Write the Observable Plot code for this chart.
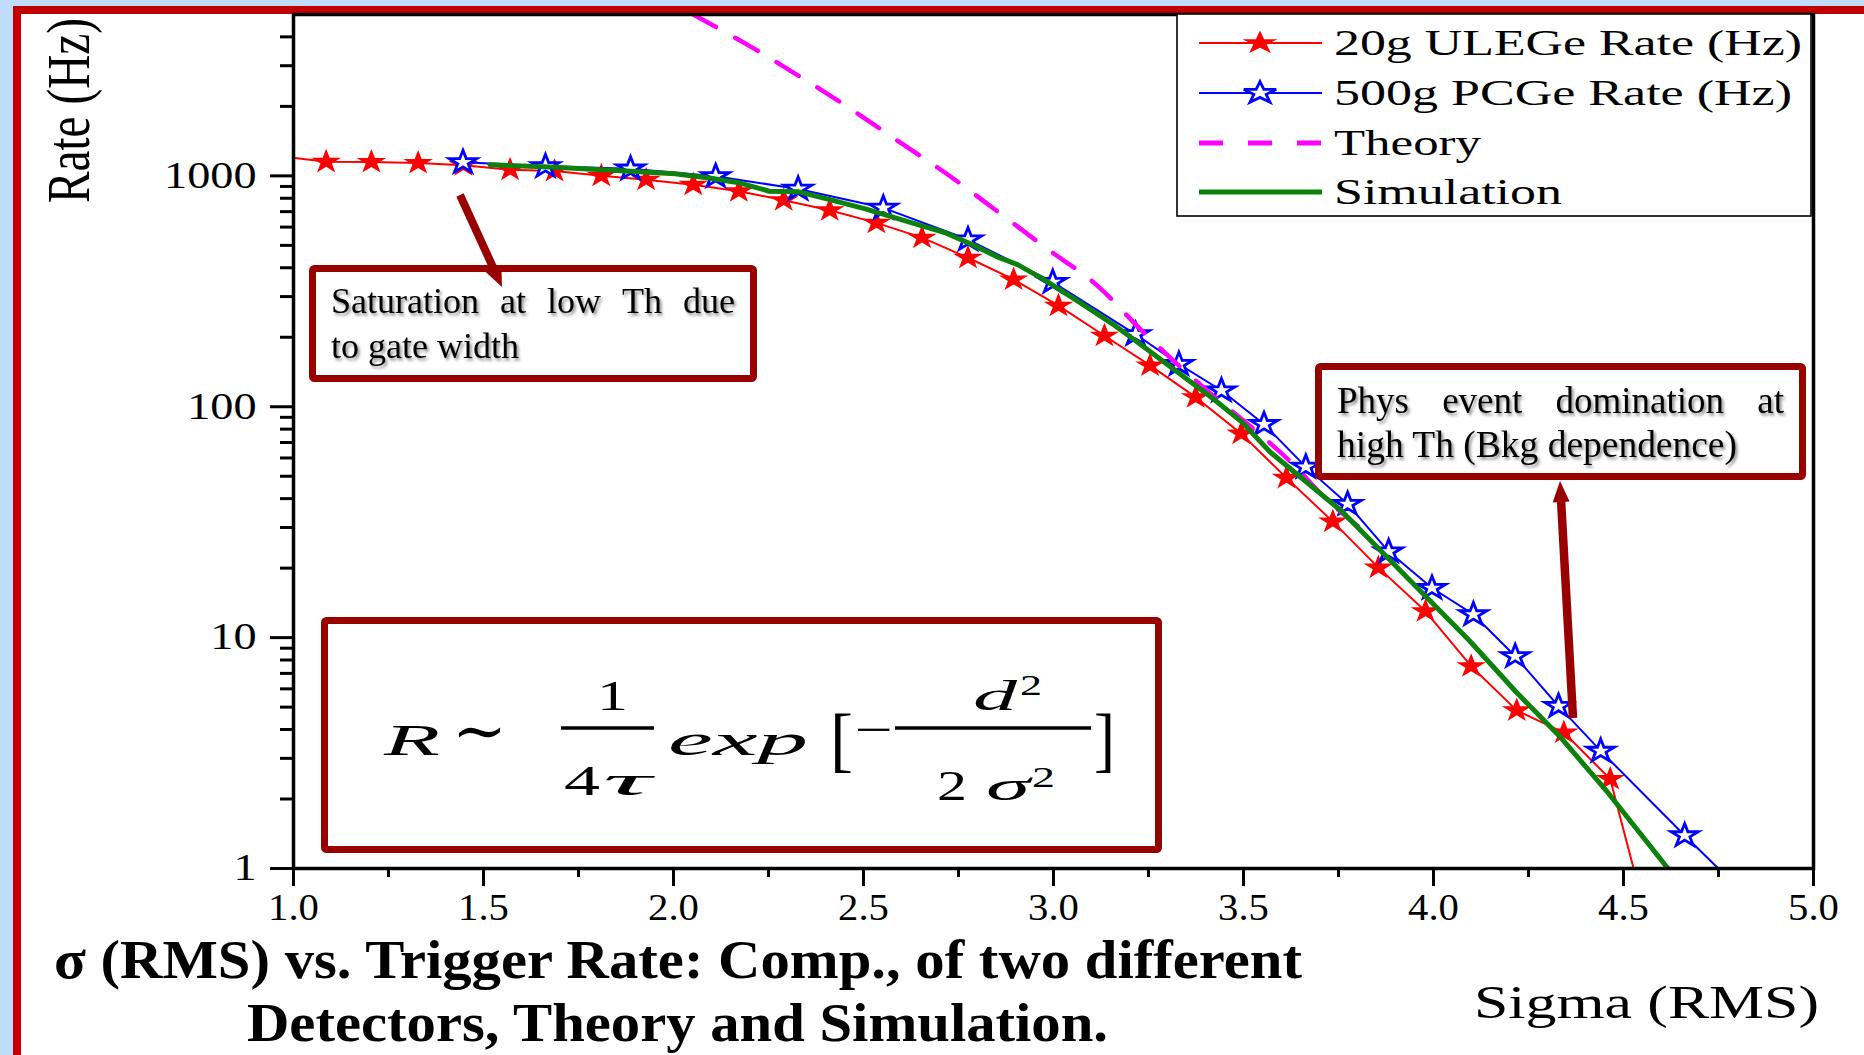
<!DOCTYPE html>
<html><head><meta charset="utf-8">
<script src="https://cdn.jsdelivr.net/npm/d3@7"></script>
<script src="https://cdn.jsdelivr.net/npm/@observablehq/plot@0.6"></script>
<style>
html,body{margin:0;padding:0;background:#c0dcfa;}
#page{position:relative;width:1864px;height:1055px;overflow:hidden;background:#c0dcfa;}
#panel{position:absolute;left:13px;top:6px;width:1900px;height:1100px;background:#fff;border-left:8px solid #c00000;border-top:8px solid #c00000;box-sizing:border-box;}
#chart{position:absolute;left:0;top:0;}
#overlay{position:absolute;left:0;top:0;}
</style></head>
<body><div id="page"><div id="panel"></div><div id="chart"></div><svg id="overlay" width="1864" height="1055"></svg></div>
<script>
// ---------- data ----------
const ulegeSigma = [1.086,1.205,1.328,1.447,1.570,1.687,1.810,1.928,2.052,2.172,2.290,2.411,2.534,2.654,2.775,2.895,3.013,3.134,3.254,3.374,3.494,3.613,3.735,3.855,3.979,4.099,4.219,4.343,4.465];
const ulegeRate  = [1150,1148,1137,1113,1064,1051,1002,963,916,858,785,710,626,540,442,356,274,203,151,110,76.5,49.2,31.8,20.1,13.0,7.52,4.84,3.88,2.44];
const ulegeEdgeSigma = [0.966, 4.585];   // line continues past the plotted symbols
const ulegeEdgeRate  = [1215, 0.43];

const pcgeSigma = [1.446,1.663,1.887,2.111,2.328,2.552,2.775,2.998,3.216,3.330,3.442,3.554,3.664,3.774,3.882,3.996,4.105,4.215,4.329,4.440,4.661];
const pcgeRate  = [1145,1100,1074,996,878,727,530,347,206,153,117.6,84,54.9,37.9,23.6,16.4,12.6,8.3,5.05,3.23,1.39];
const pcgeEdgeSigma = [4.772];
const pcgeEdgeRate  = [0.92];

const theorySigma = [2.052,2.211,2.340,2.470,2.599,2.728,2.857,2.986,3.116,3.233,3.409,3.535,3.624,3.712,3.820];
const theoryRate  = [5000,3565,2646,1931,1387,996,692,480,334,213,115.6,78,57.7,40.7,28.7];

const simSigma = [1.517,1.675,1.887,2.004,2.094,2.176,2.252,2.328,2.411,2.505,2.599,2.716,2.786,2.857,2.904,2.974,3.069,3.163,3.233,3.327,3.421,3.496,3.570,3.760,3.880,3.976,4.096,4.215,4.335,4.455,4.617,4.660];
const simRate  = [1118,1092,1047,1022,979,931,858,854,789,720,647,566,504,442,414,356,283,224,184,141,108,85.8,63.7,35.1,22.1,15.3,9.64,5.87,3.69,2.17,1.0,0.85];

const xMajorTicks = [1.0,1.5,2.0,2.5,3.0,3.5,4.0,4.5,5.0];
const xMinorTicks = [1.25,1.75,2.25,2.75,3.25,3.75,4.25,4.75];
const yMajorTicks = [1,10,100,1000];
const yMinorTicks = [2,3,4,5,6,7,8,9,20,30,40,50,60,70,80,90,200,300,400,500,600,700,800,900,2000,3000,4000];

const legendLabels = ["20g ULEGe Rate (Hz)","500g PCGe Rate (Hz)","Theory","Simulation"];
const xTitle = "Sigma (RMS)";
const yTitle = "Rate (Hz)";
const captionLines = ["σ (RMS) vs. Trigger Rate: Comp., of two different","Detectors, Theory and Simulation."];
const note1 = [["Saturation","at","low","Th","due"],"to gate width"];
const note2 = [["Phys","event","domination","at"],"high Th (Bkg dependence)"];

// ---------- rows ----------
const rows = (xs, ys) => xs.map((s,i)=>({sigma:s, rate:ys[i]}));
const ulege = rows(ulegeSigma, ulegeRate);
const ulegeLine = [...rows([ulegeEdgeSigma[0]],[ulegeEdgeRate[0]]), ...ulege, ...rows([ulegeEdgeSigma[1]],[ulegeEdgeRate[1]])];
const pcge = rows(pcgeSigma, pcgeRate);
const pcgeLine = [...pcge, ...rows(pcgeEdgeSigma, pcgeEdgeRate)];
const theory = rows(theorySigma, theoryRate);
const sim = rows(simSigma, simRate);

// stretched star symbol (the original picture is widened horizontally)
function makeStar(sx){
  const kr = Math.sin(Math.PI/10)/Math.sin(7*Math.PI/10);
  const kx = Math.sin(2*Math.PI/10)*kr, ky = -Math.cos(2*Math.PI/10)*kr;
  return {draw(ctx,size){
    const r = Math.sqrt(size/Math.PI);
    const x = kx*r, y = ky*r;
    ctx.moveTo(0,-r);
    ctx.lineTo(x*sx,y);
    for(let i=1;i<5;i++){
      const a=2*Math.PI*i/5, c=Math.cos(a), s=Math.sin(a);
      ctx.lineTo(s*r*sx,-c*r);
      ctx.lineTo((c*x-s*y)*sx, s*x+c*y);
    }
    ctx.closePath();
  }};
}
const starPlot = makeStar(1.2);
const starLegend = makeStar(1.48);

const SERIF = "'Liberation Serif','Times New Roman',serif";
const RED="#ff0000", BLUE="#0000ff", MAG="#ff00ff", GREEN="#0c820c", DARK="#990000";

const chart = Plot.plot({
  width:1864, height:1055,
  marginLeft:293, marginRight:51, marginTop:14, marginBottom:187,
  style:{background:"transparent", fontFamily:SERIF, color:"#000", overflow:"visible"},
  x:{domain:[1,5], label:null},
  y:{type:"log", domain:[1,5000], label:null},
  marks:[
    Plot.line(ulegeLine,{x:"sigma",y:"rate",stroke:RED,strokeWidth:2,clip:true}),
    Plot.dot(ulege,{x:"sigma",y:"rate",symbol:starPlot,r:13,fill:RED,stroke:"none",clip:true}),
    Plot.line(pcgeLine,{x:"sigma",y:"rate",stroke:BLUE,strokeWidth:2,clip:true}),
    Plot.dot(pcge,{x:"sigma",y:"rate",symbol:starPlot,r:12,fill:"#fff",stroke:BLUE,strokeWidth:2.8,clip:true}),
    Plot.line(theory,{x:"sigma",y:"rate",stroke:MAG,strokeWidth:4.5,strokeDasharray:"26,22",curve:"monotone-x",clip:true}),
    Plot.line(sim,{x:"sigma",y:"rate",stroke:GREEN,strokeWidth:5,clip:true}),
    Plot.frame({stroke:"#000",strokeWidth:3.5}),
    Plot.axisX({ticks:xMajorTicks,tickSize:18,tickPadding:7,fontSize:37,tickFormat:d3.format(".1f"),label:null,strokeWidth:3}),
    Plot.axisX({ticks:xMinorTicks,tickSize:9,tickFormat:()=>"",label:null,strokeWidth:3}),
    Plot.axisY({ticks:yMajorTicks,tickSize:23,tickPadding:14,fontSize:37,tickFormat:d=>String(d),label:null,strokeWidth:3}),
    Plot.axisY({ticks:yMinorTicks,tickSize:13,tickFormat:()=>"",label:null,strokeWidth:3})
  ]
});
document.getElementById("chart").append(chart);

function stretch(sel, f){
  sel.each(function(){
    const L = this.getComputedTextLength();
    if (L>0){ this.setAttribute("textLength", L*f); this.setAttribute("lengthAdjust","spacingAndGlyphs"); }
  });
}
stretch(d3.select(chart).selectAll('g[aria-label="y-axis tick label"] text'), 1.25);
stretch(d3.select(chart).selectAll('g[aria-label="x-axis tick label"] text'), 1.1);

// ---------- overlay: titles, legend, callouts ----------
const ov = d3.select("#overlay");
const defs = ov.append("defs");
defs.append("filter").attr("id","sh").attr("x","-5%").attr("y","-30%").attr("width","115%").attr("height","170%")
  .append("feDropShadow").attr("dx",2).attr("dy",2.5).attr("stdDeviation",1.4).attr("flood-color","#000").attr("flood-opacity",0.45);

function txt(g,s,x,y,o={}){
  const t=g.append("text").attr("x",x).attr("y",y).text(s)
    .attr("font-family",o.family||SERIF).attr("font-size",o.size).attr("fill","#000");
  if(o.weight) t.attr("font-weight",o.weight);
  if(o.italic) t.attr("font-style","italic");
  if(o.anchor) t.attr("text-anchor",o.anchor);
  if(o.width) t.attr("textLength",o.width).attr("lengthAdjust","spacingAndGlyphs");
  if(o.transform) t.attr("transform",o.transform);
  return t;
}
function justify(g,words,x0,x1,y,size){
  const els=words.map(w=>txt(g,w,0,y,{size}));
  const ws=els.map(e=>e.node().getComputedTextLength());
  const gap=(x1-x0-d3.sum(ws))/(words.length-1);
  let x=x0; els.forEach((e,i)=>{e.attr("x",x); x+=ws[i]+gap;});
}
function arrow(g,x1,y1,x2,y2,hl,hw,w){
  const L=Math.hypot(x2-x1,y2-y1), ux=(x2-x1)/L, uy=(y2-y1)/L, nx=-uy, ny=ux;
  const bx=x2-ux*hl, by=y2-uy*hl;
  g.append("line").attr("x1",x1).attr("y1",y1).attr("x2",bx+ux).attr("y2",by+uy).attr("stroke",DARK).attr("stroke-width",w);
  g.append("path").attr("d",`M${x2},${y2}L${bx+nx*hw/2},${by+ny*hw/2}L${bx-nx*hw/2},${by-ny*hw/2}Z`).attr("fill",DARK);
}

// axis titles
txt(ov,yTitle,89,203,{size:46,transform:"translate(89,203) rotate(-90) scale(1,1.35) translate(-89,-203)",width:185});
txt(ov,xTitle,1474,1018,{size:47,width:345});
// caption
txt(ov,captionLines[0],54,978,{size:55,weight:"bold",width:1248});
txt(ov,captionLines[1],247,1041,{size:54,weight:"bold",width:861});

// legend
const lg=ov.append("g");
lg.append("rect").attr("x",1177).attr("y",14).attr("width",634).attr("height",202).attr("fill","#fff").attr("stroke","#000").attr("stroke-width",1.6);
const rowY=[43,93,143,192], textW=[468,458,147,228];
const starPath=(r)=>{const p=d3.path(); starLegend.draw(p,Math.PI*r*r); return p.toString();};
lg.append("line").attr("x1",1199).attr("x2",1322).attr("y1",rowY[0]).attr("y2",rowY[0]).attr("stroke",RED).attr("stroke-width",2);
lg.append("path").attr("d",starPath(12.5)).attr("transform",`translate(1260,${rowY[0]})`).attr("fill",RED);
lg.append("line").attr("x1",1199).attr("x2",1322).attr("y1",rowY[1]).attr("y2",rowY[1]).attr("stroke",BLUE).attr("stroke-width",2);
lg.append("path").attr("d",starPath(11.5)).attr("transform",`translate(1260,${rowY[1]})`).attr("fill","#fff").attr("stroke",BLUE).attr("stroke-width",2.8);
lg.append("line").attr("x1",1199).attr("x2",1322).attr("y1",rowY[2]).attr("y2",rowY[2]).attr("stroke",MAG).attr("stroke-width",5).attr("stroke-dasharray","24,25");
lg.append("line").attr("x1",1199).attr("x2",1322).attr("y1",rowY[3]).attr("y2",rowY[3]).attr("stroke",GREEN).attr("stroke-width",5);
legendLabels.forEach((s,i)=>txt(lg,s,1334,rowY[i]+12,{size:36,width:textW[i]}));

// callout boxes
const boxes=ov.append("g");
[[309,265,448,117],[1315,363,491,117],[321,617,841,236]].forEach(([x,y,w,h])=>{
  boxes.append("rect").attr("x",x+3.5).attr("y",y+3.5).attr("width",w-7).attr("height",h-7)
    .attr("rx",2).attr("fill","#fff").attr("stroke",DARK).attr("stroke-width",7);
});
const nt=ov.append("g").attr("filter","url(#sh)");
justify(nt,note1[0],331,735,313,36);
txt(nt,note1[1],331,358,{size:36});
justify(nt,note2[0],1337,1784,413,37);
txt(nt,note2[1],1337,457,{size:37,width:400});

// arrows
const ar=ov.append("g");
arrow(ar,460,195,502,287,20,17,8);
arrow(ar,1573,718,1560,481,21,17,8.5);

// formula
const fm=ov.append("g");
const MATH="'Liberation Serif','DejaVu Serif',serif";
txt(fm,"R",384,755,{size:44,italic:true,width:56,family:MATH});
txt(fm,"∼",452,752,{size:62,width:55,family:"'DejaVu Serif',serif"});
txt(fm,"1",597,710,{size:42,width:31,family:MATH});
fm.append("line").attr("x1",561).attr("x2",654).attr("y1",728).attr("y2",728).attr("stroke","#000").attr("stroke-width",3.5);
txt(fm,"4",564,795,{size:42,width:36,family:MATH});
txt(fm,"τ",603,795,{size:42,italic:true,width:48,family:MATH});
txt(fm,"exp",668,755,{size:44,italic:true,width:140,family:MATH});
txt(fm,"[",830,763,{size:72,width:23,family:MATH});
txt(fm,"−",855,745,{size:46,width:38,family:MATH});
fm.append("line").attr("x1",895).attr("x2",1091).attr("y1",728).attr("y2",728).attr("stroke","#000").attr("stroke-width",3.5);
txt(fm,"d",973,710,{size:42,italic:true,width:44,family:MATH});
txt(fm,"2",1020,695,{size:30,width:22,family:MATH});
txt(fm,"2",937,800,{size:42,width:30,family:MATH});
txt(fm,"σ",986,800,{size:42,italic:true,width:44,family:MATH});
txt(fm,"2",1032,787,{size:30,width:23,family:MATH});
txt(fm,"]",1094,763,{size:72,width:21,family:MATH});
</script></body></html>
